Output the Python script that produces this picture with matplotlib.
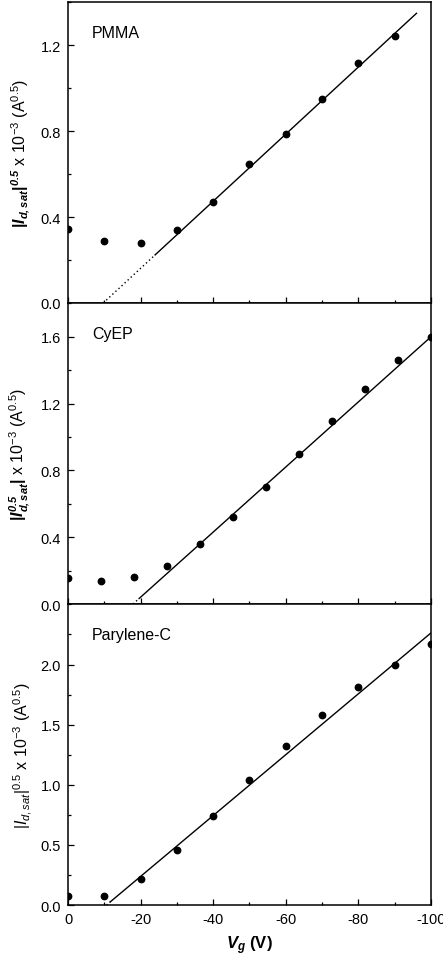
import numpy as np
import matplotlib
matplotlib.use("Agg")
import matplotlib.pyplot as plt
from matplotlib.ticker import MultipleLocator

plt.rcParams['font.family'] = ['Liberation Sans', 'DejaVu Sans']
plt.rcParams['mathtext.fontset'] = 'custom'
plt.rcParams['mathtext.rm'] = 'Liberation Sans'
plt.rcParams['mathtext.it'] = 'Liberation Sans:italic'
plt.rcParams['mathtext.bf'] = 'Liberation Sans:bold'
plt.rcParams['mathtext.bfit'] = 'Liberation Sans:bold:italic'
plt.rcParams['axes.unicode_minus'] = False

# PMMA
pmma_vg = [0, -10, -20, -30, -40, -50, -60, -70, -80, -90]
pmma_i = [0.345, 0.288, 0.280, 0.339, 0.471, 0.646, 0.785, 0.948, 1.116, 1.243]
pmma_fit_vg = [-24.0, -96.0]
pmma_fit_i = [0.224, 1.349]
pmma_ext_vg = [-9.7, -24.0]
pmma_ext_i = [0.0, 0.224]

# CyEP
cyep_vg = [0, -9.1, -18.2, -27.3, -36.4, -45.5, -54.5, -63.6, -72.7, -81.8, -90.9, -100]
cyep_i = [0.154, 0.140, 0.162, 0.228, 0.358, 0.520, 0.702, 0.896, 1.098, 1.288, 1.460, 1.598]
cyep_fit_vg = [-19.6, -100.0]
cyep_fit_i = [0.033, 1.600]
cyep_ext_vg = [-17.9, -19.6]
cyep_ext_i = [0.0, 0.033]

# Parylene-C
pary_vg = [0, -10, -20, -30, -40, -50, -60, -70, -80, -90, -100]
pary_i = [0.072, 0.075, 0.216, 0.456, 0.739, 1.037, 1.320, 1.577, 1.812, 1.992, 2.169]
pary_fit_vg = [-11.6, -100.0]
pary_fit_i = [0.025, 2.263]
pary_ext_vg = [-10.6, -11.6]
pary_ext_i = [0.0, 0.025]

names = ['PMMA', 'CyEP', 'Parylene-C']
ylims = [1.4, 1.8, 2.5]
yticks = [[0.0, 0.4, 0.8, 1.2], [0.0, 0.4, 0.8, 1.2, 1.6], [0.0, 0.5, 1.0, 1.5, 2.0]]
ylabels = [
    r"$\mathbf{|}\mathbfit{I}_{\mathbfit{d,sat}}\mathbf{|}^{\mathbfit{0.5}}\mathrm{\ x\ 10^{-3}\ (A^{0.5})}$",
    r"$\mathbf{|}\mathbfit{I}_{\mathbfit{d,sat}}^{\mathbfit{0.5}}\mathbf{|}\mathrm{\ x\ 10^{-3}\ (A^{0.5})}$",
    r"$|\mathit{I}_{\mathit{d,sat}}|^{\mathit{0.5}}\mathrm{\ x\ 10^{-3}\ (A^{0.5})}$",
]
series = [
    (pmma_vg, pmma_i, pmma_fit_vg, pmma_fit_i, pmma_ext_vg, pmma_ext_i),
    (cyep_vg, cyep_i, cyep_fit_vg, cyep_fit_i, cyep_ext_vg, cyep_ext_i),
    (pary_vg, pary_i, pary_fit_vg, pary_fit_i, pary_ext_vg, pary_ext_i),
]

fig = plt.figure(figsize=(4.43, 9.62), dpi=100)
left, width = 0.1535, 0.8194
bottoms = [0.684, 0.3711, 0.0582]
height = 0.3125

for k in range(3):
    ax = fig.add_axes([left, bottoms[k], width, height])
    vg, i, fvg, fi, evg, ei = series[k]
    ax.plot(evg, ei, color='black', lw=1.0, ls=(0, (1, 2)))
    ax.plot(fvg, fi, color='black', lw=1.0)
    ax.plot(vg, i, 'o', color='black', ms=4.6)
    ax.set_xlim(0, -100)
    ax.xaxis.set_major_locator(MultipleLocator(20))
    ax.xaxis.set_minor_locator(MultipleLocator(10))
    ax.set_yticks(yticks[k])
    step = yticks[k][1] - yticks[k][0]
    ax.yaxis.set_minor_locator(MultipleLocator(step / 2))
    ax.set_ylim(0, ylims[k])
    ax.tick_params(which='both', direction='in', top=False, right=False,
                   labelsize=10.5, width=0.9, pad=5)
    ax.tick_params(which='major', length=4.5)
    ax.tick_params(which='minor', length=2.5)
    ax.yaxis.set_major_formatter(plt.FormatStrFormatter('%.1f'))
    for s in ax.spines.values():
        s.set_linewidth(1.1)
    if k < 2:
        ax.tick_params(labelbottom=False)
    else:
        ax.set_xlabel(r"$\mathbfit{V}_{\mathbfit{g}}$ (V)", fontsize=12,
                      fontweight='bold', labelpad=5)
    ax.set_ylabel(ylabels[k], fontsize=11.5)
    ax.yaxis.set_label_coords(-0.10 if k < 2 else -0.095, 0.5)
    ax.text(0.066, 0.9, names[k], transform=ax.transAxes, fontsize=11.5,
            va='center', ha='left')

fig.savefig('out.png', dpi=100)
